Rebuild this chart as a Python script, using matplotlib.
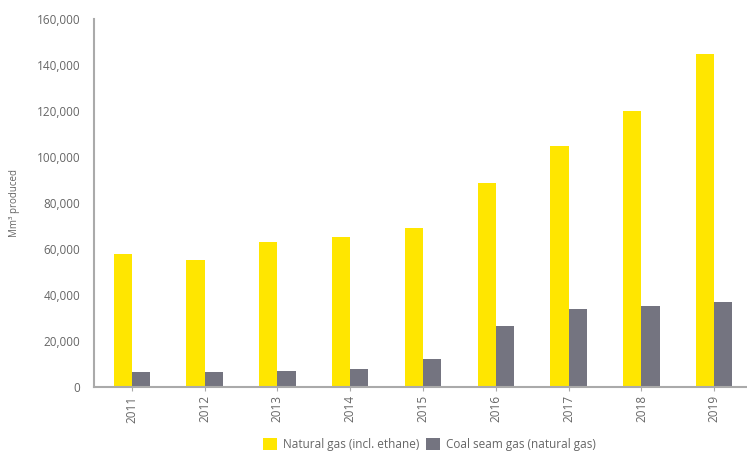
import numpy as np
import matplotlib.pyplot as plt
from matplotlib.ticker import FuncFormatter

years = ['2011', '2012', '2013', '2014', '2015', '2016', '2017', '2018', '2019']
natural_gas = [58000, 55000, 63000, 65000, 69000, 88500, 105000, 120000, 145000]
coal_seam_gas = [6500, 6500, 7000, 8000, 12000, 26500, 34000, 35000, 37000]

YELLOW = '#ffe600'
GREY = '#747480'
TEXT = '#666666'


def main() -> None:
    plt.rcParams['font.family'] = ['Open Sans', 'DejaVu Sans']
    fig = plt.figure(figsize=(7.47, 4.55), dpi=100)
    ax = fig.add_axes([0.1258, 0.1495, 0.8742, 0.8087])

    x = np.arange(len(years))
    w = 0.25
    ax.bar(x - w / 2, natural_gas, width=w, color=YELLOW,
           label='Natural gas (incl. ethane)')
    ax.bar(x + w / 2, coal_seam_gas, width=w, color=GREY,
           label='Coal seam gas (natural gas)')

    ax.set_xlim(-0.52, 8.45)
    ax.set_ylim(0, 160000)
    ax.set_yticks(np.arange(0, 160001, 20000))
    ax.yaxis.set_major_formatter(FuncFormatter(lambda v, p: f'{int(v):,}'))
    ax.set_xticks(x)
    ax.set_xticklabels(years, rotation=90)

    for s in ['top', 'right']:
        ax.spines[s].set_visible(False)
    for s in ['left', 'bottom']:
        ax.spines[s].set_color('#aaaaaa')
        ax.spines[s].set_linewidth(1.5)

    ax.tick_params(axis='y', length=0, pad=10, labelsize=8.5, labelcolor=TEXT)
    ax.tick_params(axis='x', length=3, color='#aaaaaa', pad=3,
                   labelsize=8.5, labelcolor=TEXT)
    ax.set_ylabel('Mm³ produced', fontsize=7, color=TEXT, labelpad=12)

    fig.legend(loc='lower center', bbox_to_anchor=(0.575, -0.015), ncol=2,
               frameon=False, fontsize=8.5, labelcolor=TEXT,
               handlelength=1.2, handleheight=1.2, columnspacing=0.6,
               handletextpad=0.5)

    fig.savefig('out.png', dpi=100)


if __name__ == '__main__':
    main()
